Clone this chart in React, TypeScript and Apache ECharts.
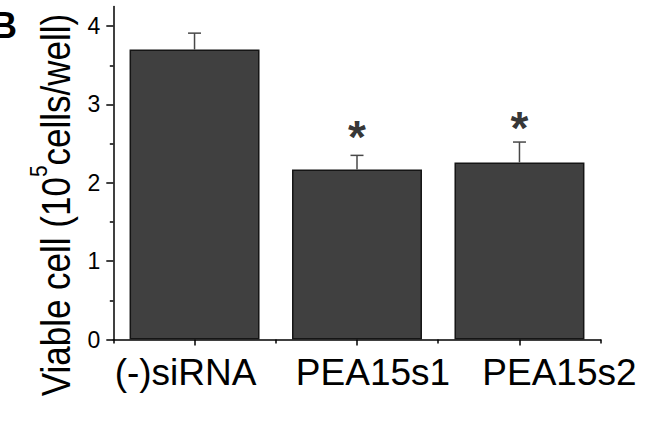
import React, { useEffect, useRef } from "react";
import * as echarts from "echarts";

const categories = ["(-)siRNA", "PEA15s1", "PEA15s2"];
const means = [3.7, 2.17, 2.26];
const errors = [0.21, 0.18, 0.26];
const significance = ["", "*", "*"];
const markerValues = [0, 2.67, 2.79];
const yMajorTicks = [0, 1, 2, 3, 4];
const yMinorTicks = [0.5, 1.5, 2.5, 3.5];
const yMax = 4.25;

const FONT = "Liberation Sans, Arial, sans-serif";

export default function App() {
  const ref = useRef<HTMLDivElement>(null);
  useEffect(() => {
    if (!ref.current) return;
    const chart = echarts.init(ref.current, undefined, { renderer: "svg" });
    const labelShift = ["a", "b", "c"];
    const option: any = {
      animation: false,
      backgroundColor: "#fff",
      textStyle: { fontFamily: FONT },
      grid: { left: 113.3, right: 47.3, top: 6.5, bottom: 82.5, containLabel: false },
      xAxis: [
        {
          type: "category",
          data: categories,
          position: "bottom",
          boundaryGap: true,
          axisLine: { show: true, lineStyle: { color: "#000", width: 1.5 } },
          axisTick: { show: true, alignWithLabel: true, length: 6, lineStyle: { color: "#000", width: 1.5 } },
          axisLabel: {
            interval: 0,
            hideOverlap: false,
            margin: 14,
            color: "#000",
            fontSize: 37,
            fontFamily: FONT,
            formatter: (v: string, i: number) => `{${labelShift[i]}|${v}}`,
            rich: {
              a: { fontSize: 37, fontFamily: FONT, color: "#000", padding: [0, 18, 0, 0] },
              b: { fontSize: 37, fontFamily: FONT, color: "#000", padding: [0, 0, 0, 32] },
              c: { fontSize: 37, fontFamily: FONT, color: "#000", padding: [0, 0, 0, 80] },
            },
          },
          splitLine: { show: false },
        },
        {
          type: "value",
          min: 0,
          max: 3,
          interval: 1,
          position: "bottom",
          axisLine: { show: false },
          axisTick: { show: true, length: 4, lineStyle: { color: "#000", width: 1.5 } },
          axisLabel: { show: false },
          splitLine: { show: false },
        },
      ],
      yAxis: [
        {
          type: "value",
          min: 0,
          max: yMax,
          interval: 1,
          position: "left",
          axisLine: { show: true, lineStyle: { color: "#000", width: 1.5 } },
          axisTick: { show: true, length: 7, customValues: yMajorTicks, lineStyle: { color: "#000", width: 1.5 } },
          axisLabel: { show: false },
          splitLine: { show: false },
        },
        {
          type: "value",
          min: 0,
          max: yMax,
          interval: 0.5,
          position: "left",
          axisLine: { show: false },
          axisTick: { show: true, length: 3.5, customValues: yMinorTicks, lineStyle: { color: "#000", width: 1.5 } },
          axisLabel: {
            show: true,
            margin: 13,
            color: "#000",
            formatter: (v: number) => (yMajorTicks.indexOf(v) >= 0 ? `{t|${v}}` : ""),
            rich: { t: { fontSize: 23, fontFamily: FONT, color: "#000" } },
          },
          splitLine: { show: false },
        },
      ],
      series: [
        {
          type: "bar",
          data: means,
          xAxisIndex: 0,
          yAxisIndex: 0,
          barWidth: "80%",
          itemStyle: { color: "#404040", borderColor: "#151515", borderWidth: 1.5 },
          z: 2,
        },
        {
          type: "custom",
          xAxisIndex: 0,
          yAxisIndex: 0,
          data: means.map((m, i) => [i, m, m + errors[i]]),
          encode: { x: 0, y: [1, 2] },
          z: 3,
          renderItem: (_params: any, api: any) => {
            const x = api.value(0);
            const lo = api.coord([x, api.value(1)]);
            const hi = api.coord([x, api.value(2)]);
            const half = 6.5;
            const st = { stroke: "#484848", lineWidth: 1.5 };
            return {
              type: "group",
              children: [
                { type: "line", shape: { x1: lo[0], y1: lo[1], x2: hi[0], y2: hi[1] }, style: st },
                { type: "line", shape: { x1: hi[0] - half, y1: hi[1], x2: hi[0] + half, y2: hi[1] }, style: st },
              ],
            };
          },
        },
        {
          type: "scatter",
          xAxisIndex: 0,
          yAxisIndex: 0,
          symbolSize: 0,
          data: significance
            .map((s, i) => ({ value: [i, markerValues[i]], mark: s }))
            .filter((d) => d.mark !== ""),
          label: {
            show: true,
            position: "inside",
            formatter: (p: any) => p.data.mark,
            fontSize: 46,
            fontWeight: "bold",
            color: "#000",
            fontFamily: FONT,
            offset: [0, 7],
          },
          z: 4,
        },
      ],
      graphic: [
        {
          type: "text",
          left: -9,
          top: 7,
          style: { text: "B", fontSize: 36, fontWeight: "bold", fill: "#000", fontFamily: FONT },
        },
        {
          type: "text",
          x: 56,
          y: 205,
          rotation: Math.PI / 2,
          scaleY: 1.15,
          style: {
            text: "Viable cell (10{sup|5}cells/well)",
            fontSize: 35,
            fill: "#000",
            fontFamily: FONT,
            align: "center",
            verticalAlign: "middle",
            rich: {
              sup: { fontSize: 21, fontFamily: FONT, fill: "#000", padding: [0, 0, 30, 0] },
            },
          },
        },
      ],
    };
    chart.setOption(option);
    return () => chart.dispose();
  }, []);
  return (
    <div
      ref={ref}
      style={{ position: "fixed", left: 0, top: 0, width: 648, height: 422, background: "#fff" }}
    />
  );
}
